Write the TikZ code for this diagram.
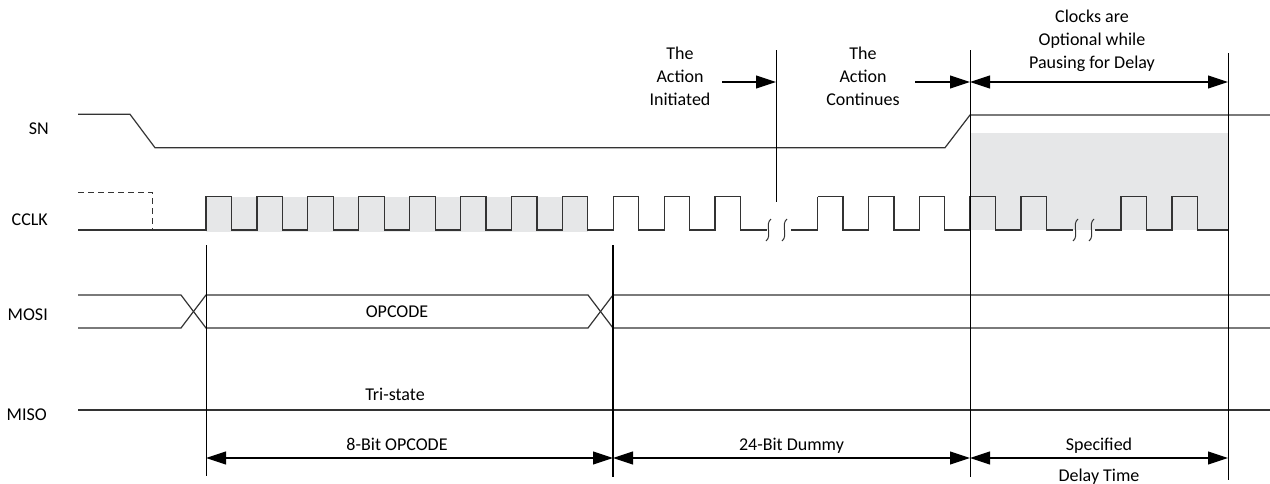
\documentclass[tikz,border=0pt]{standalone}
\usepackage{fontspec}
\setmainfont{Carlito}
\usetikzlibrary{arrows.meta}
\definecolor{shadegray}{HTML}{E6E7E8}
\definecolor{wavegray}{HTML}{333333}

\newcommand{\gapmark}[1]{\draw[breakmark] ({#1+2.5},219) .. controls ({#1-4},224) and ({#1+4},236) .. ({#1-2.5},241);}

\begin{document}
\begin{tikzpicture}[
  x=1pt, y=-1pt,
  font=\fontsize{18}{23}\selectfont,
  wave/.style={draw=wavegray, line width=1.2pt, line join=miter},
  marker/.style={draw=black, line width=1pt},
  boldmarker/.style={draw=black, line width=1.8pt},
  breakmark/.style={draw=wavegray, line width=1pt},
  dimarrow/.style={{Triangle[length=20pt,width=13pt]}-{Triangle[length=20pt,width=13pt]}, line width=1.1pt},
  toarrow/.style={-{Triangle[length=20pt,width=13pt]}, line width=1.1pt},
  signame/.style={anchor=base east, inner sep=0pt},
  lbl/.style={align=center, inner sep=0pt}
]
  \useasboundingbox (0,0) rectangle (1270,483);

  % --- time markers ---
  \coordinate (tOp)  at (206,0);
  \coordinate (tDum) at (613,0);
  \coordinate (tAct) at (776,0);
  \coordinate (tDly) at (970,0);
  \coordinate (tEnd) at (1228,0);
  \coordinate (topy) at (0,82);
  \coordinate (dimy) at (0,458);

  % shaded clock regions
  \fill[shadegray] (206,196.7) rectangle (588,232);
  \fill[shadegray] (970,133.3) rectangle (1228,230);

  % --- signal names ---
  \node[signame] (snName)   at (49,134.3) {SN};
  \node[signame] (clkName)  at (48,225)   {CCLK};
  \node[signame] (mosiName) at (48,320)   {MOSI};
  \node[signame] (misoName) at (47,420.7) {MISO};

  % --- SN ---
  \draw[wave] (78,114.3) -- (130,114.3) -- (155,147.7) -- (945,147.7) -- (970,115) -- (1270,115);

  % --- CCLK ---
  \draw[wave, dash pattern=on 6pt off 4pt] (78,192.7) -- (152.7,192.7) -- (152.7,230);
  \draw[wave] (78,230) -- (206,230)
    \foreach \i in {0,...,10} { -- ({206+50.9*\i},230) -- ({206+50.9*\i},196.7) -- ({231.5+50.9*\i},196.7) -- ({231.5+50.9*\i},230) }
    -- (767,230);
  \gapmark{768.5}
  \gapmark{784.5}
  \draw[wave, line width=1.8pt] (791,230) -- (817.5,230) -- (817.5,196.7);
  \draw[wave] (817.5,196.7) -- (843,196.7) -- (843,230)
    \foreach \i in {1,2} { -- ({817.5+50.9*\i},230) -- ({817.5+50.9*\i},196.7) -- ({843+50.9*\i},196.7) -- ({843+50.9*\i},230) }
    -- (970,230)
    \foreach \i in {0,1} { -- ({970+50.9*\i},230) -- ({970+50.9*\i},196.7) -- ({995.5+50.9*\i},196.7) -- ({995.5+50.9*\i},230) }
    -- (1073,230);
  \gapmark{1075.5}
  \gapmark{1091.5}
  \draw[wave] (1095,230)
    \foreach \i in {0,1} { -- ({1121+50.9*\i},230) -- ({1121+50.9*\i},196.7) -- ({1146.5+50.9*\i},196.7) -- ({1146.5+50.9*\i},230) }
    -- (1228,230);

  % --- MOSI ---
  \draw[wave] (78,295) -- (181,295) -- (206,328) -- (588,328) -- (613,295) -- (1270,295);
  \draw[wave] (78,328) -- (181,328) -- (206,295) -- (588,295) -- (613,328) -- (1270,328);
  \node[lbl] (opcode) at (397,311.5) {OPCODE};

  % --- MISO ---
  \draw[wave] (78,410) -- (1270,410);
  \node[lbl, anchor=base] (tristate) at (395,400) {Tri-state};

  % --- marker lines ---
  \draw[marker]     (tOp |- 0,245)  -- (tOp |- 0,476);
  \draw[boldmarker] (tDum |- 0,245) -- (tDum |- 0,477);
  \draw[marker]     (tAct |- 0,50)  -- (tAct |- 0,202);
  \draw[marker]     (tDly |- 0,50)  -- (tDly |- 0,477);
  \draw[marker]     (tEnd |- 0,53)  -- (tEnd |- 0,480);

  % --- top annotations ---
  \node[lbl] (initTxt) at (680,76) {The\\Action\\Initiated};
  \node[lbl] (contTxt) at (863,76) {The\\Action\\Continues};
  \node[lbl] (clkTxt)  at (1092,41) {Clocks are\\Optional while\\Pausing for Delay};
  \coordinate (initStart) at (722,82);
  \coordinate (contStart) at (915,82);
  \draw[toarrow]  (initStart) -- (tAct |- topy);
  \draw[toarrow]  (contStart) -- (tDly |- topy);
  \draw[dimarrow] (tDly |- topy) -- (tEnd |- topy);

  % --- bottom dimensions ---
  \draw[dimarrow] (tOp |- dimy)  -- (tDum |- dimy);
  \draw[dimarrow] (tDum |- dimy) -- (tDly |- dimy);
  \draw[dimarrow] (tDly |- dimy) -- (tEnd |- dimy);
  \node[lbl, anchor=base] (opLbl)  at (397,450)    {8-Bit OPCODE};
  \node[lbl, anchor=base] (dumLbl) at (791.5,450)  {24-Bit Dummy};
  \node[lbl, anchor=base] (spLbl)  at (1099,450)   {Specified};
  \node[lbl, anchor=base] (dlLbl)  at (1099,481)   {Delay Time};
\end{tikzpicture}
\end{document}
